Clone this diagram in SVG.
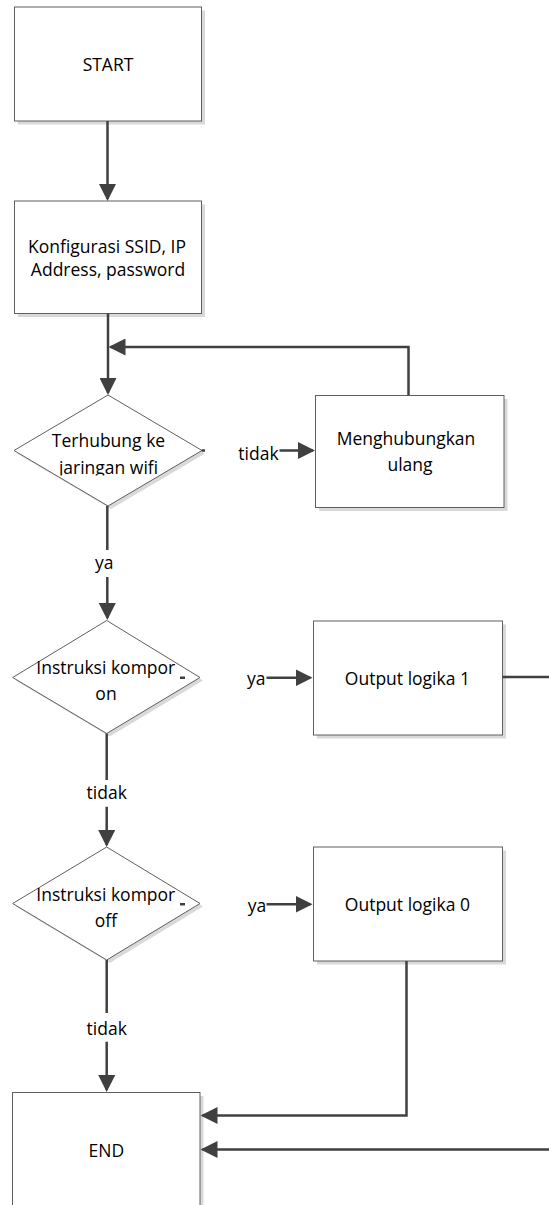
<svg xmlns="http://www.w3.org/2000/svg" width="549" height="1205" viewBox="0 0 549 1205">
  <style>
    .shadow { fill: #d9d9d9; stroke: none; }
    .shape { fill: #ffffff; stroke: #5f5f5f; stroke-width: 1; }
    .txt { font-family: "Open Sans", "Liberation Sans", sans-serif; font-size: 17.5px; fill: #000000; text-anchor: middle; }
    .conn { fill: none; stroke: #404040; stroke-width: 2.5; stroke-linecap: butt; stroke-linejoin: miter; }
  </style>
  <defs>
    <marker id="arrow" markerUnits="userSpaceOnUse" markerWidth="17" markerHeight="17" refX="15" refY="8.5" orient="auto">
      <path d="M0,0 L17,8.5 L0,17 Z" fill="#404040"/>
    </marker>
    <clipPath id="clipD1">
      <rect x="0" y="380" width="230" height="95.5"/>
    </clipPath>
  </defs>
  <rect width="549" height="1205" fill="#ffffff"/>

  <g id="start">
    <rect class="shadow" x="18" y="10.5" width="187" height="114"/>
    <rect class="shape" x="14.5" y="7" width="187" height="114"/>
    <text class="txt" x="108" y="70.5">START</text>
  </g>

  <g id="konfigurasi">
    <rect class="shadow" x="18" y="204.5" width="187" height="112.5"/>
    <rect class="shape" x="14.5" y="201" width="187" height="112.5"/>
    <text class="txt" x="107" y="253.3">Konfigurasi SSID, IP</text>
    <text class="txt" x="108" y="276">Address, password</text>
  </g>

  <g id="terhubung">
    <polygon class="shadow" points="111,398 205,453.5 111,509 17,453.5"/>
    <polygon class="shape" points="108,395 202,450.5 108,506 14,450.5"/>
    <g clip-path="url(#clipD1)">
      <text class="txt" x="108.5" y="447">Terhubung ke</text>
      <text class="txt" x="108.5" y="474">jaringan wifi</text>
    </g>
  </g>

  <g id="menghubungkan">
    <rect class="shadow" x="319" y="399" width="188.5" height="112"/>
    <rect class="shape" x="315.5" y="395.5" width="188.5" height="112"/>
    <text class="txt" x="406" y="445">Menghubungkan</text>
    <text class="txt" x="410" y="471">ulang</text>
  </g>

  <g id="kompor-on">
    <polygon class="shadow" points="109.7,623.5 203,680.5 109.7,736.5 15.7,680.5"/>
    <polygon class="shape" points="106.7,620.5 200,677.5 106.7,733.5 12.7,677.5"/>
    <text class="txt" x="105.8" y="673.7">Instruksi kompor</text>
    <text class="txt" x="106" y="699.7">on</text>
  </g>

  <g id="output1">
    <rect class="shadow" x="317" y="624.5" width="189" height="114"/>
    <rect class="shape" x="313.5" y="621" width="189" height="114"/>
    <text class="txt" x="407.4" y="684.5">Output logika 1</text>
  </g>

  <g id="kompor-off">
    <polygon class="shadow" points="109.7,850 203,906.5 109.7,963 15.7,906.5"/>
    <polygon class="shape" points="106.7,847 200,903.5 106.7,960 12.7,903.5"/>
    <text class="txt" x="105.8" y="900.5">Instruksi kompor</text>
    <text class="txt" x="105.8" y="926.5">off</text>
  </g>

  <g id="output0">
    <rect class="shadow" x="317" y="850.5" width="189" height="114"/>
    <rect class="shape" x="313.5" y="847" width="189" height="114"/>
    <text class="txt" x="407.4" y="910.5">Output logika 0</text>
  </g>

  <g id="end">
    <rect class="shadow" x="16" y="1096" width="187.5" height="120"/>
    <rect class="shape" x="12.5" y="1092.5" width="187.5" height="120"/>
    <text class="txt" x="106.3" y="1156.7">END</text>
  </g>

  <g id="connectors">
    <path class="conn" d="M107.5,121 V199" marker-end="url(#arrow)"/>
    <path class="conn" d="M108,313.5 V393" marker-end="url(#arrow)"/>
    <path class="conn" d="M408.5,395.5 V347 H110.5" marker-end="url(#arrow)"/>
    <path class="conn" d="M201.7,450.5 H205 M279.5,450.5 H313" marker-end="url(#arrow)"/>
    <text class="txt" x="258.5" y="460">tidak</text>
    <path class="conn" d="M107.3,506 V550 M107.3,577 V618" marker-end="url(#arrow)"/>
    <text class="txt" x="104.2" y="569.3">ya</text>
    <path class="conn" d="M180,677.8 H185 M266.5,677.8 H310.5" marker-end="url(#arrow)"/>
    <text class="txt" x="256.3" y="685">ya</text>
    <path class="conn" d="M106.7,733.5 V780 M106.7,806.7 V845" marker-end="url(#arrow)"/>
    <text class="txt" x="106.7" y="799.3">tidak</text>
    <path class="conn" d="M180,904.3 H185 M266.5,904.3 H310.5" marker-end="url(#arrow)"/>
    <text class="txt" x="257" y="911.5">ya</text>
    <path class="conn" d="M106.7,960 V1013 M106.7,1041.7 V1090" marker-end="url(#arrow)"/>
    <text class="txt" x="106.7" y="1035">tidak</text>
    <path class="conn" d="M406.5,961 V1115.5 H202.5" marker-end="url(#arrow)"/>
    <path class="conn" d="M502.5,677 H565 V1149.5 H202.5" marker-end="url(#arrow)"/>
  </g>
</svg>
